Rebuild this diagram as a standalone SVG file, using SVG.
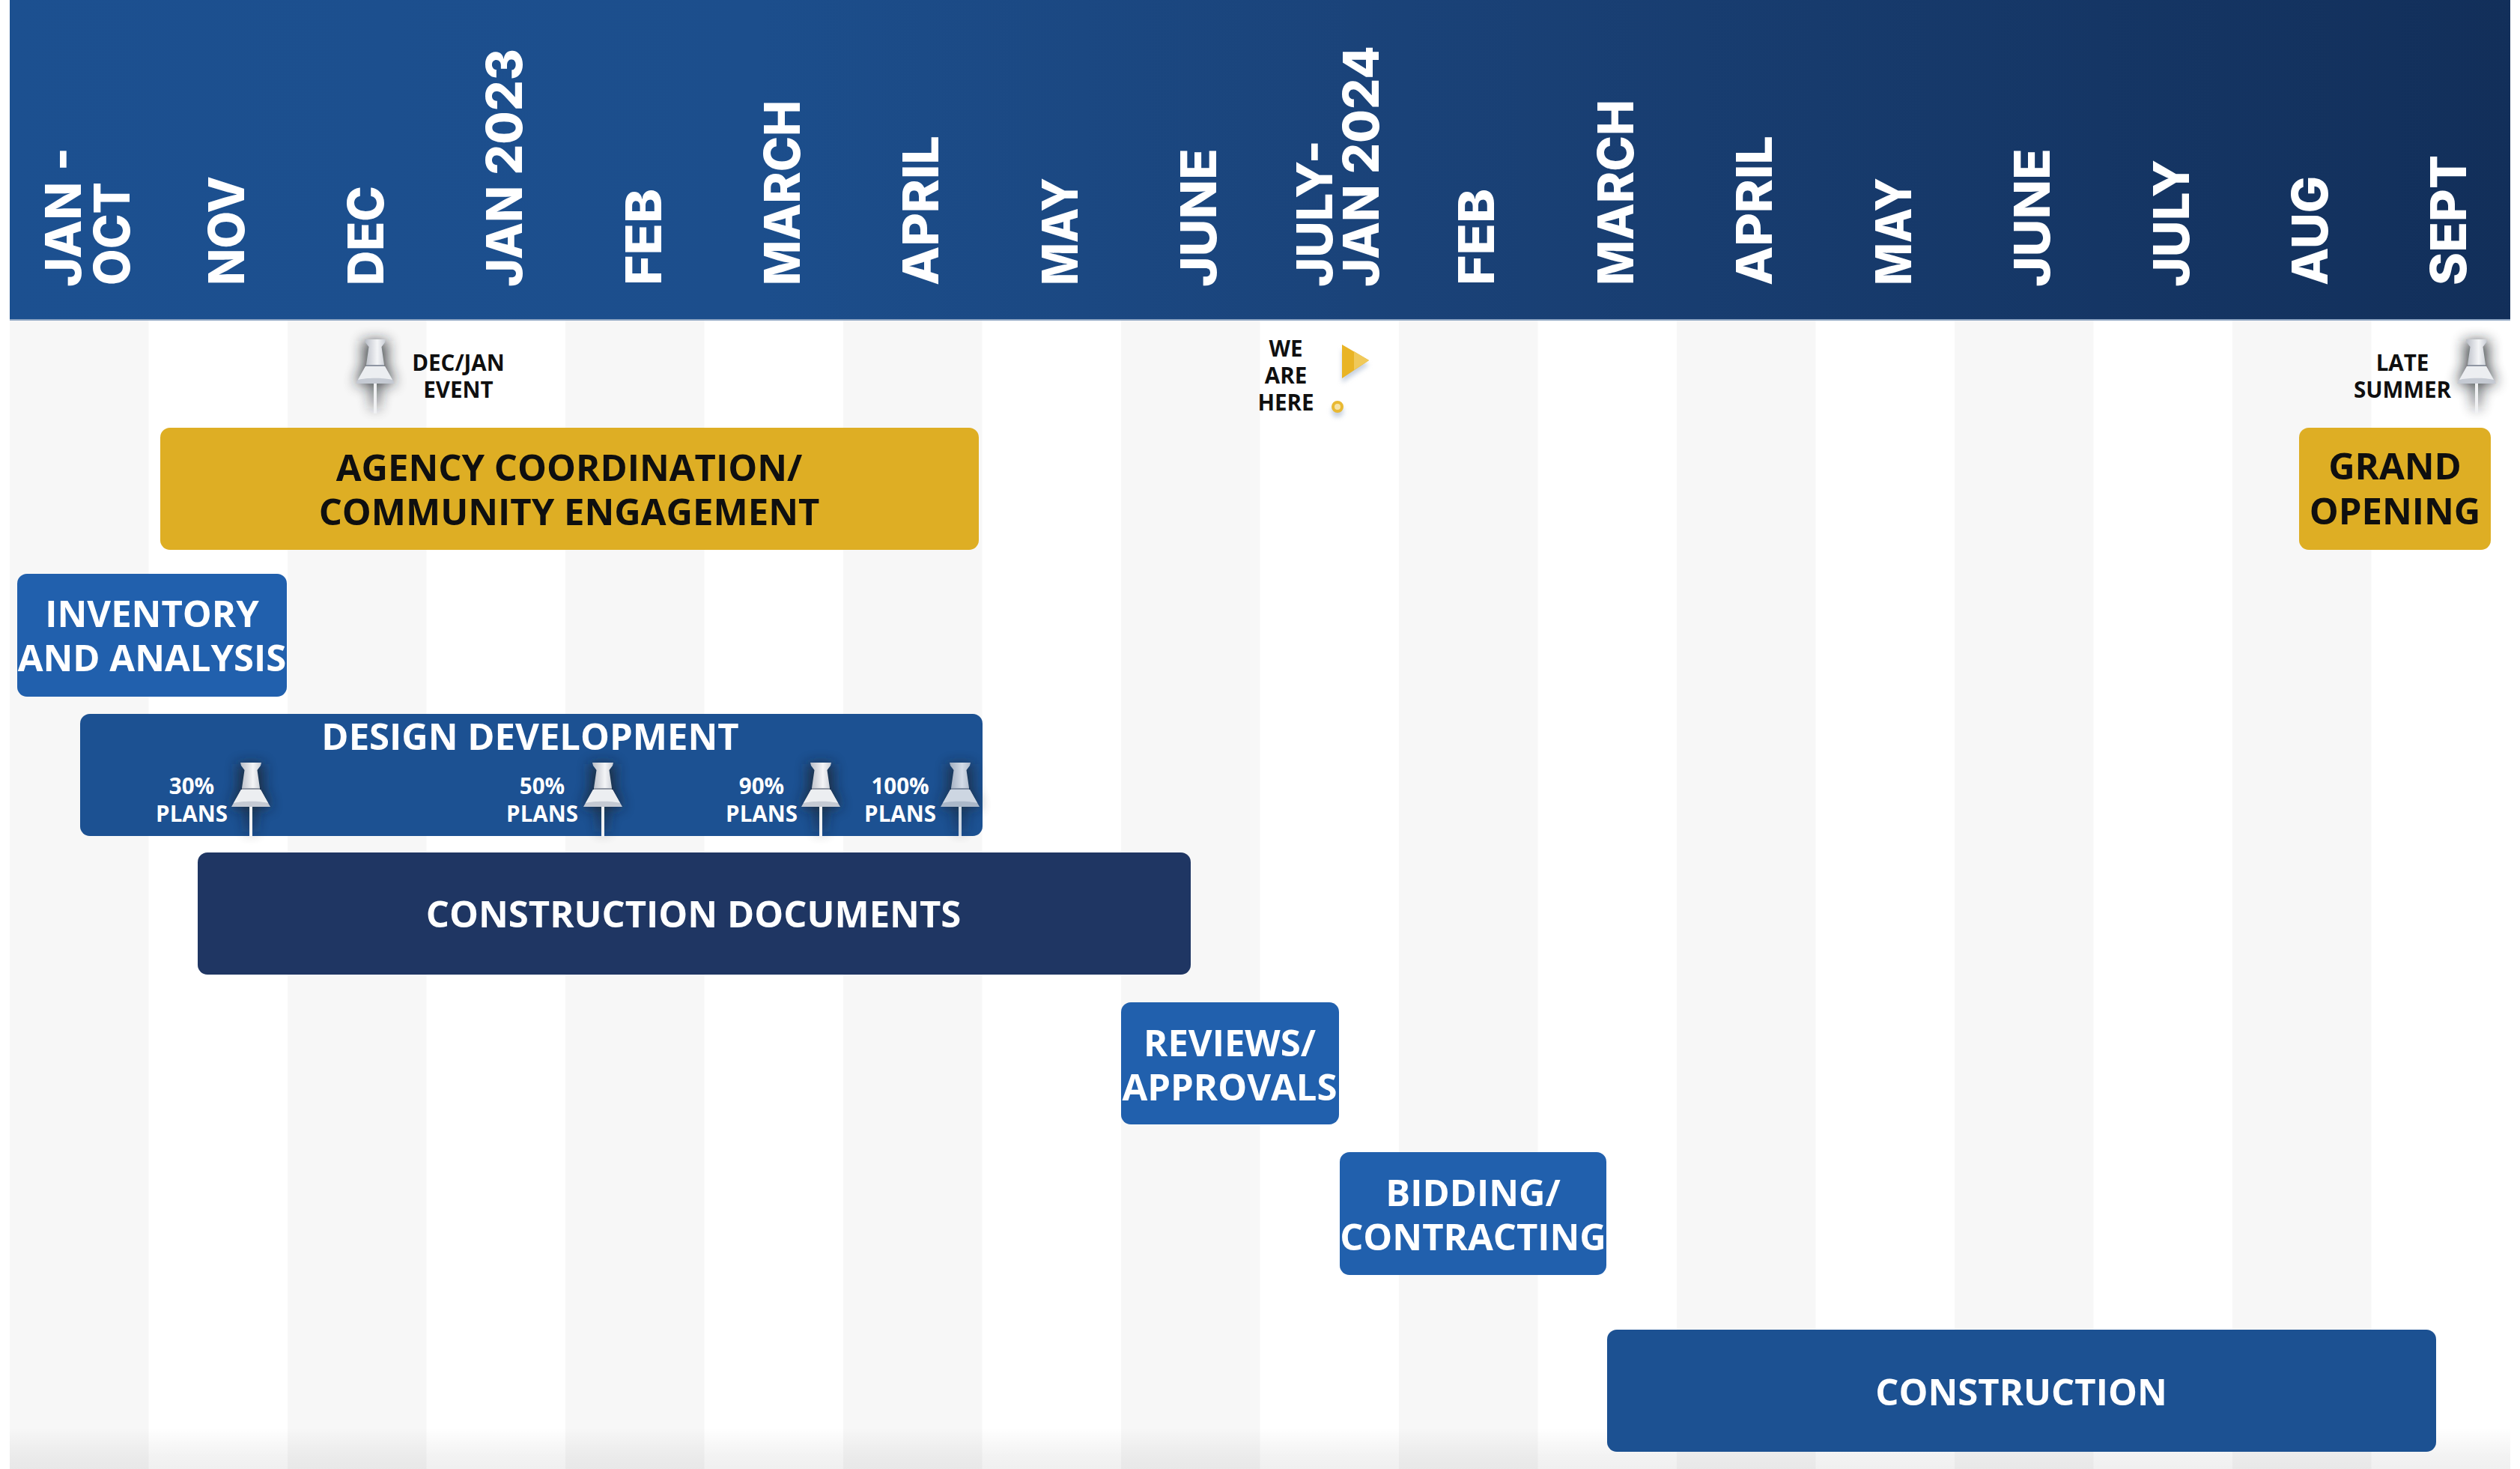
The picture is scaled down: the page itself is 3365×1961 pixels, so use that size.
<svg xmlns="http://www.w3.org/2000/svg" width="3365" height="1961" viewBox="0 0 3365 1961">
<style>
.bar{font:700 49px "Open Sans","Liberation Sans",sans-serif;text-anchor:middle}
.wt{fill:#fff}.bk{fill:#0f0f0f}
.hd{font:800 66px Inter,"Open Sans","Liberation Sans",sans-serif;fill:#fff}
.sm{font:700 29.500px "Open Sans","Liberation Sans",sans-serif;text-anchor:middle}
.col{fill:#f7f7f7}
</style>
<defs>
<linearGradient id="hg" x1="0" x2="1" y1="0" y2="0"><stop offset="0" stop-color="#1c5090"/><stop offset=".3" stop-color="#1c4e8c"/><stop offset=".56" stop-color="#1a4278"/><stop offset="1" stop-color="#122f5a"/></linearGradient>
<linearGradient id="bot" x1="0" x2="0" y1="0" y2="1"><stop offset="0" stop-color="#000" stop-opacity="0"/><stop offset=".7" stop-color="#000" stop-opacity=".05"/><stop offset="1" stop-color="#000" stop-opacity=".06"/></linearGradient>
<linearGradient id="pg" x1="0" x2="1" y1="0" y2="0"><stop offset="0" stop-color="#b9bdc6"/><stop offset=".6" stop-color="#f4f5f7"/><stop offset="1" stop-color="#c8ccd4"/></linearGradient>
<filter id="b" x="-120%" y="-60%" width="340%" height="220%"><feGaussianBlur stdDeviation="9"/></filter>
<filter id="b2" x="-60%" y="-60%" width="220%" height="220%"><feGaussianBlur stdDeviation="3"/></filter>
<g id="pin">
<path d="M-17 2H17L15 34 27 60 6 60 4 92H-4L-6 60-27 60-15 34Z" fill="#1c2028" opacity=".8" filter="url(#b)"/>
<rect x="-2" y="58" width="4" height="41" fill="#f0f1f3"/>
<path d="M-14 0H14L13 4 8.500 10 12 34H-12L-8.500 10-13 4Z" fill="url(#pg)"/>
<path d="M-13 36H13L26 59H-26Z" fill="#c5cad3"/>
<path d="M-13 36H13L23 54C12 51-12 51-23 54Z" fill="#eceef1"/>
<rect x="-12" y="34" width="24" height="2" fill="#8f96a3"/>
</g>
</defs>
<rect width="3365" height="1961" fill="#fff"/>
<g id="columns">
<rect class="col" x="13" y="428" width="185.500" height="1533"/>
<rect class="col" x="384" y="428" width="185.500" height="1533"/>
<rect class="col" x="755" y="428" width="185.500" height="1533"/>
<rect class="col" x="1126" y="428" width="185.500" height="1533"/>
<rect class="col" x="1497" y="428" width="185.500" height="1533"/>
<rect class="col" x="1868" y="428" width="185.500" height="1533"/>
<rect class="col" x="2239" y="428" width="185.500" height="1533"/>
<rect class="col" x="2610" y="428" width="185.500" height="1533"/>
<rect class="col" x="2981" y="428" width="185.500" height="1533"/>
<rect x="13" y="1905" width="3339" height="56" fill="url(#bot)"/>
</g>
<g id="header">
<rect x="13" y="0" width="3339" height="428" fill="url(#hg)"/>
<rect x="13" y="426" width="3339" height="2" fill="#8ea5c2"/>
<text class="hd" transform="translate(108 383) rotate(-90)" textLength="186" lengthAdjust="spacingAndGlyphs">JAN -</text>
<text class="hd" transform="translate(173 381) rotate(-90)" textLength="138" lengthAdjust="spacingAndGlyphs">OCT</text>
<text class="hd" transform="translate(326 381) rotate(-90)" textLength="146" lengthAdjust="spacingAndGlyphs">NOV</text>
<text class="hd" transform="translate(512 381) rotate(-90)" textLength="133" lengthAdjust="spacingAndGlyphs">DEC</text>
<text class="hd" transform="translate(697 383) rotate(-90)" textLength="318" lengthAdjust="spacingAndGlyphs">JAN 2023</text>
<text class="hd" transform="translate(883 381) rotate(-90)" textLength="129" lengthAdjust="spacingAndGlyphs">FEB</text>
<text class="hd" transform="translate(1068 381) rotate(-90)" textLength="247" lengthAdjust="spacingAndGlyphs">MARCH</text>
<text class="hd" transform="translate(1253 381) rotate(-90)" textLength="200" lengthAdjust="spacingAndGlyphs">APRIL</text>
<text class="hd" transform="translate(1439 381) rotate(-90)" textLength="144" lengthAdjust="spacingAndGlyphs">MAY</text>
<text class="hd" transform="translate(1624 383) rotate(-90)" textLength="185" lengthAdjust="spacingAndGlyphs">JUNE</text>
<text class="hd" transform="translate(1779 383) rotate(-90)" textLength="196" lengthAdjust="spacingAndGlyphs">JULY-</text>
<text class="hd" transform="translate(1841 383) rotate(-90)" textLength="322" lengthAdjust="spacingAndGlyphs">JAN 2024</text>
<text class="hd" transform="translate(1995 381) rotate(-90)" textLength="129" lengthAdjust="spacingAndGlyphs">FEB</text>
<text class="hd" transform="translate(2181 381) rotate(-90)" textLength="248" lengthAdjust="spacingAndGlyphs">MARCH</text>
<text class="hd" transform="translate(2366 381) rotate(-90)" textLength="200" lengthAdjust="spacingAndGlyphs">APRIL</text>
<text class="hd" transform="translate(2552 381) rotate(-90)" textLength="144" lengthAdjust="spacingAndGlyphs">MAY</text>
<text class="hd" transform="translate(2737 383) rotate(-90)" textLength="185" lengthAdjust="spacingAndGlyphs">JUNE</text>
<text class="hd" transform="translate(2923 383) rotate(-90)" textLength="170" lengthAdjust="spacingAndGlyphs">JULY</text>
<text class="hd" transform="translate(3108 381) rotate(-90)" textLength="146" lengthAdjust="spacingAndGlyphs">AUG</text>
<text class="hd" transform="translate(3293 381) rotate(-90)" textLength="174" lengthAdjust="spacingAndGlyphs">SEPT</text>
</g>
<g id="milestone-decjan"><use href="#pin" x="501" y="453"/><text class="sm bk" x="612" y="495">DEC/JAN</text><text class="sm bk" x="612" y="531">EVENT</text></g>
<g id="milestone-here">
<path d="M1792 466 1828 487 1792 511Z" fill="#8fa3c0" opacity=".5" filter="url(#b2)"/>
<path d="M1792 460 1828 481 1792 505Z" fill="#e9b425"/><path d="M1808 469 1828 481 1808 494Z" fill="#f0c95a"/>
<circle cx="1786" cy="549" r="8" fill="#8fa3c0" opacity=".5" filter="url(#b2)"/>
<circle cx="1786" cy="543" r="6" fill="#f6e3a6" stroke="#e9b933" stroke-width="4"/>
<text class="sm bk" x="1717" y="476">WE</text><text class="sm bk" x="1717" y="512">ARE</text><text class="sm bk" x="1717" y="548">HERE</text>
</g>
<g id="milestone-late"><use href="#pin" x="3307" y="453"/><text class="sm bk" x="3208" y="495">LATE</text><text class="sm bk" x="3208" y="531">SUMMER</text></g>
<g id="agency"><rect x="214" y="571" width="1093" height="163" rx="13" fill="#deae24"/><text class="bar bk" x="760" y="642">AGENCY COORDINATION/</text><text class="bar bk" x="760" y="701">COMMUNITY ENGAGEMENT</text></g>
<g id="grand-opening"><rect x="3070" y="571" width="256" height="163" rx="13" fill="#deae24"/><text class="bar bk" x="3198" y="640">GRAND</text><text class="bar bk" x="3198" y="700">OPENING</text></g>
<g id="inventory"><rect x="23" y="766" width="360" height="164" rx="13" fill="#2160ad"/><text class="bar wt" x="203" y="837">INVENTORY</text><text class="bar wt" x="203" y="896">AND ANALYSIS</text></g>
<g id="design"><rect x="107" y="953" width="1205" height="163" rx="13" fill="#1c5192"/><text class="bar wt" x="708" y="1001">DESIGN DEVELOPMENT</text>
<use href="#pin" x="335" y="1018"/><text class="sm wt" x="256" y="1060">30%</text><text class="sm wt" x="256" y="1097">PLANS</text>
<use href="#pin" x="805" y="1018"/><text class="sm wt" x="724" y="1060">50%</text><text class="sm wt" x="724" y="1097">PLANS</text>
<use href="#pin" x="1096" y="1018"/><text class="sm wt" x="1017" y="1060">90%</text><text class="sm wt" x="1017" y="1097">PLANS</text>
<use href="#pin" x="1282" y="1018" opacity=".85"/><text class="sm wt" x="1202" y="1060">100%</text><text class="sm wt" x="1202" y="1097">PLANS</text>
</g>
<g id="construction-documents"><rect x="264" y="1138" width="1326" height="163" rx="13" fill="#1f3663"/><text class="bar wt" x="926" y="1238">CONSTRUCTION DOCUMENTS</text></g>
<g id="reviews"><rect x="1497" y="1338" width="291" height="163" rx="13" fill="#2160ad"/><text class="bar wt" x="1642" y="1410">REVIEWS/</text><text class="bar wt" x="1642" y="1469">APPROVALS</text></g>
<g id="bidding"><rect x="1789" y="1538" width="356" height="164" rx="13" fill="#2160ad"/><text class="bar wt" x="1967" y="1610">BIDDING/</text><text class="bar wt" x="1967" y="1669">CONTRACTING</text></g>
<g id="construction"><rect x="2146" y="1775" width="1107" height="163" rx="13" fill="#1c5192"/><text class="bar wt" x="2699" y="1876">CONSTRUCTION</text></g>
</svg>
